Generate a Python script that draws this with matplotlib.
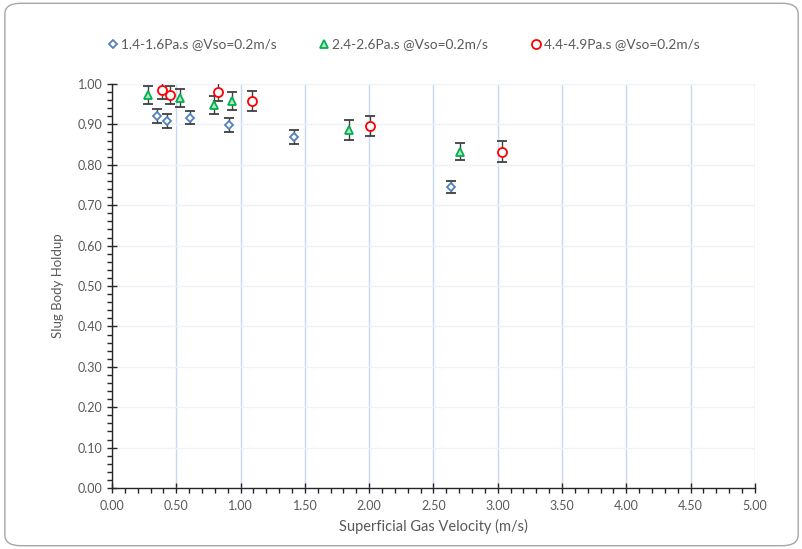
import matplotlib.pyplot as plt
from matplotlib.lines import Line2D
from matplotlib.patches import FancyBboxPatch
from matplotlib.ticker import MultipleLocator, FormatStrFormatter

plt.rcParams['font.family'] = ['Lato', 'DejaVu Sans']

# superficial gas velocity (m/s) and slug body holdup per viscosity range
vsg_low = [0.35, 0.425, 0.61, 0.91, 1.415, 2.64]
hold_low = [0.921, 0.909, 0.917, 0.899, 0.868, 0.744]
err_low = [0.017, 0.017, 0.017, 0.017, 0.017, 0.015]

vsg_mid = [0.28, 0.53, 0.79, 0.93, 1.84, 2.71]
hold_mid = [0.973, 0.966, 0.948, 0.958, 0.886, 0.832]
err_mid = [0.022, 0.022, 0.022, 0.022, 0.024, 0.021]

vsg_high = [0.385, 0.45, 0.825, 1.085, 2.005, 3.03]
hold_high = [0.985, 0.973, 0.981, 0.958, 0.897, 0.832]
err_high = [0.022, 0.022, 0.024, 0.024, 0.025, 0.026]

labels = ["1.4-1.6Pa.s @Vso=0.2m/s", "2.4-2.6Pa.s @Vso=0.2m/s", "4.4-4.9Pa.s @Vso=0.2m/s"]

fig = plt.figure(figsize=(8.03, 5.49), dpi=100)

# rounded chart-area frame
frame = FancyBboxPatch((0.006, 0.006), 0.988, 0.988, boxstyle="round,pad=0,rounding_size=0.02",
                       transform=fig.transFigure, facecolor='none', edgecolor='#a6a6a6',
                       linewidth=1.0, zorder=-5)
fig.patches.append(frame)

ax = fig.add_axes([0.1395, 0.111, 0.8005, 0.736])
ax.set_facecolor('none')

series = [
    (vsg_low, hold_low, err_low, 'D', '#4f81bd', 'white', 4.0),
    (vsg_mid, hold_mid, err_mid, '^', '#00b050', '#b6e3c4', 5.5),
    (vsg_high, hold_high, err_high, 'o', '#ff0000', 'white', 6.5),
]
handles = []
for (x, y, e, m, c, fc, ms), lab in zip(series, labels):
    ax.errorbar(x, y, yerr=e, fmt=m, color=c, mfc=fc, mec=c, mew=1.3, ms=ms,
                ecolor='#404040', elinewidth=1.0, capsize=3.5, capthick=1.0, zorder=3)
    # legend shows the marker only, no error bar
    handles.append(Line2D([], [], linestyle='none', marker=m, mfc=fc, mec=c, mew=1.3,
                          ms=ms, label=lab))

ax.set_xlim(0, 5)
ax.set_ylim(0, 1)
ax.xaxis.set_major_locator(MultipleLocator(0.5))
ax.xaxis.set_minor_locator(MultipleLocator(0.1))
ax.yaxis.set_major_locator(MultipleLocator(0.1))
ax.yaxis.set_minor_locator(MultipleLocator(0.02))
ax.xaxis.set_major_formatter(FormatStrFormatter('%.2f'))
ax.yaxis.set_major_formatter(FormatStrFormatter('%.2f'))

ax.grid(True, axis='x', which='major', color='#c6d9f1', linewidth=1.0, zorder=0)
ax.grid(True, axis='y', which='major', color='#eef3fa', linewidth=1.0, zorder=0)

for s in ['top', 'right']:
    ax.spines[s].set_visible(False)
for s in ['left', 'bottom']:
    ax.spines[s].set_color('#262626')
    ax.spines[s].set_linewidth(1.0)

ax.tick_params(which='major', direction='inout', length=7, width=1.0, color='#262626',
               labelsize=9, labelcolor='#595959')
ax.tick_params(which='minor', direction='out', length=3.5, width=1.0, color='#262626')
ax.tick_params(axis='x', pad=5)

ax.set_xlabel('Superficial Gas Velocity (m/s)', fontsize=10.5, color='#595959', labelpad=5)
ax.set_ylabel('Slug Body Holdup', fontsize=9.5, color='#595959', labelpad=10)

leg = ax.legend(handles=handles, loc='lower center', bbox_to_anchor=(0.452, 1.07), ncol=3,
                frameon=False, fontsize=9.8, handletextpad=0.1, columnspacing=3.0,
                handlelength=1.0, borderaxespad=0)
for t in leg.get_texts():
    t.set_color('#595959')

fig.savefig('out.png', dpi=100)
